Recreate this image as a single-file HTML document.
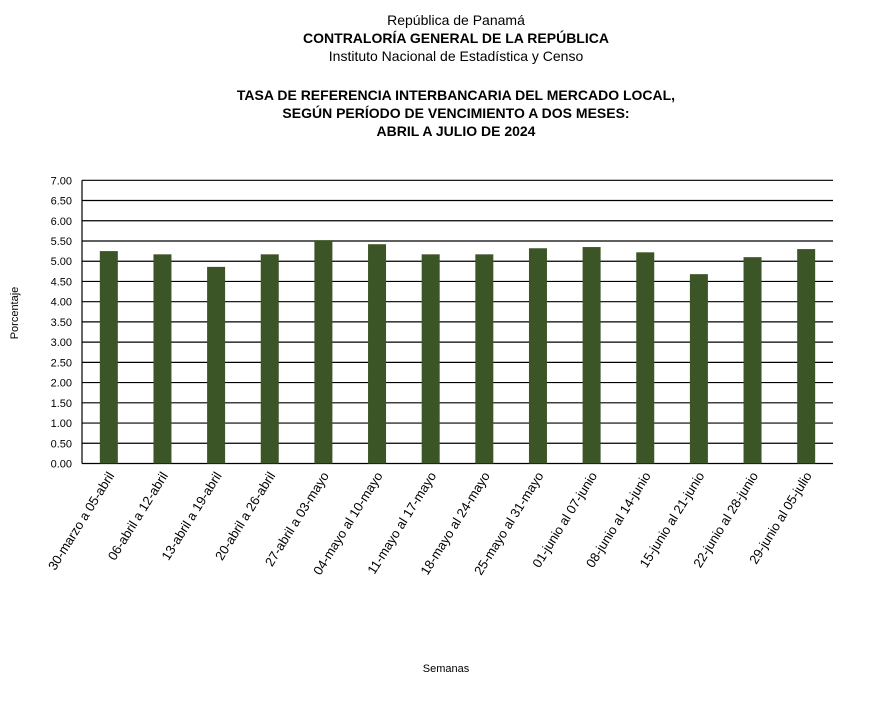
<!DOCTYPE html>
<html><head><meta charset="utf-8"><style>
body{margin:0;background:#fff;}
svg text{font-family:"Liberation Sans",Arial,sans-serif;fill:#000;}
</style></head><body>
<svg id="chart" width="894" height="719" xmlns="http://www.w3.org/2000/svg">
<g text-anchor="middle">
<text x="456" y="25" font-size="14">República de Panamá</text>
<text x="456" y="43" font-size="14" font-weight="bold">CONTRALORÍA GENERAL DE LA REPÚBLICA</text>
<text x="456" y="61" font-size="14">Instituto  Nacional de Estadística  y  Censo</text>
<text x="456" y="100" font-size="14" font-weight="bold">TASA DE REFERENCIA INTERBANCARIA DEL MERCADO LOCAL,</text>
<text x="456" y="118" font-size="14" font-weight="bold">SEGÚN PERÍODO DE VENCIMIENTO A DOS MESES:</text>
<text x="456" y="136" font-size="14" font-weight="bold">ABRIL A JULIO DE 2024</text>
</g>
<g id="grid"></g>
<g id="bars"></g>
<g id="yticks"></g>
<g id="xticks"></g>
<text x="0" y="0" font-size="11" text-anchor="middle" transform="translate(18,313) rotate(-90)">Porcentaje</text>
<text x="446" y="672" font-size="11" text-anchor="middle">Semanas</text>
</svg>
<script>
const categories=["30-marzo a 05-abril","06-abril a 12-abril","13-abril a 19-abril","20-abril a 26-abril","27-abril a 03-mayo","04-mayo al 10-mayo","11-mayo al 17-mayo","18-mayo al 24-mayo","25-mayo al 31-mayo","01-junio al 07-junio","08-junio al 14-junio","15-junio al 21-junio","22-junio al 28-junio","29-junio al 05-julio"];
const values=[5.25,5.17,4.86,5.17,5.52,5.42,5.17,5.17,5.32,5.35,5.22,4.68,5.10,5.30];
const yTicks=[0,0.5,1,1.5,2,2.5,3,3.5,4,4.5,5,5.5,6,6.5,7];
const NS="http://www.w3.org/2000/svg";
const L=82,R=833,T=180.3,B=463.5,YMAX=7;
const y=v=>B-(v/YMAX)*(B-T);
const slot=(R-L)/categories.length;
const x=i=>L+slot*(i+0.5);
function mk(tag,attrs,parent){const e=document.createElementNS(NS,tag);for(const k in attrs)e.setAttribute(k,attrs[k]);parent.appendChild(e);return e;}
const grid=document.getElementById('grid'),bars=document.getElementById('bars'),yt=document.getElementById('yticks'),xt=document.getElementById('xticks');
yTicks.forEach(v=>{
 const ln=mk('line',{x1:L,x2:R,y1:y(v),y2:y(v),stroke:'#000','stroke-width':1.2},grid);
 
 
 const t=mk('text',{x:72,y:y(v)+4,'font-size':11,'text-anchor':'end'},yt);
 t.textContent=v.toFixed(2);
 
 
});
const ax=mk('line',{x1:L,x2:L,y1:T,y2:B,stroke:'#000','stroke-width':1.2},grid);


values.forEach((v,i)=>{
 const r=mk('rect',{x:x(i)-9,y:y(v),width:18,height:B-y(v),fill:'#3b5526'},bars);
 
 
});
categories.forEach((c,i)=>{
 const t=mk('text',{x:0,y:0,'font-size':13,'text-anchor':'end',transform:`translate(${x(i)+6},${B+12}) rotate(-58)`},xt);
 t.textContent=c;
 
 
});
</script>
</body></html>
